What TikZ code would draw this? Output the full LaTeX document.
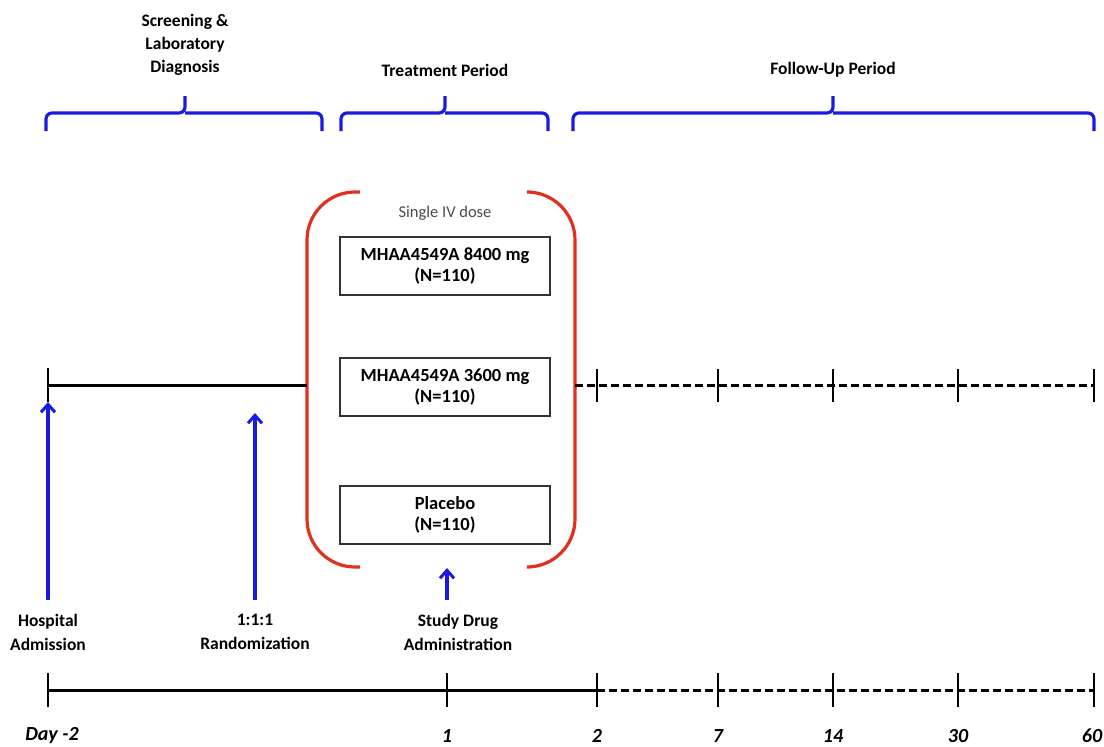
\documentclass[tikz,border=0pt]{standalone}
\usepackage{fontspec}
\setmainfont{Carlito}
\usepackage{xcolor}
\definecolor{cBlue}{HTML}{1A1AE0}
\definecolor{cRed}{HTML}{E0301E}
\definecolor{cGray}{HTML}{4A4A4A}
\usepackage{tikz}
\usetikzlibrary{positioning,arrows.meta}
\tikzset{
  period-brace/.style={draw=cBlue,line width=3.2pt,rounded corners=6pt},
  dose-bracket/.style={draw=cRed,line width=3.2pt,rounded corners=48pt},
  arm-box/.style={draw=black!80,line width=1.2pt,minimum width=210pt,
    minimum height=58pt,align=center,font=\fontsize{18.5}{21}\selectfont\bfseries},
  period-label/.style={align=center,font=\fontsize{17.5}{23}\selectfont\bfseries},
  event-label/.style={align=center,inner ysep=14pt,
    font=\fontsize{17.5}{24}\selectfont\bfseries},
  day-label/.style={font=\fontsize{20}{22}\selectfont\bfseries\itshape},
  line-solid/.style={draw=black,line width=3pt},
  line-dashed/.style={draw=black,line width=3pt,dash pattern=on 8pt off 4pt},
  tick-mark/.style={draw=black,line width=2pt},
  arrow-event/.style={draw=cBlue,line width=3.4pt,
    -{Straight Barb[length=8pt,width=14pt,line width=3pt]}},
}
\begin{document}
\begin{tikzpicture}[x=1pt,y=-1pt]
  \useasboundingbox (0,0) rectangle (1104,747);

  % period headers
  \node[period-label] (screen) at (185,45) {Screening \&\\Laboratory\\Diagnosis};
  \node[period-label] (treat) at (445,70) {Treatment Period};
  \node[period-label] (follow) at (833,70) {Follow-Up Period};
  \draw[period-brace] (46,131) |- (185,113) -- (185,96);
  \draw[period-brace] (322,131) |- (185,113);
  \draw[period-brace] (341,131) |- (445,113) -- (445,96);
  \draw[period-brace] (548,131) |- (445,113);
  \draw[period-brace] (573,131) |- (833,113) -- (833,96);
  \draw[period-brace] (1094,131) |- (833,113);

  % study arms
  \draw[dose-bracket] (360,192) -- (307,192) -- (307,567) -- (360,567);
  \draw[dose-bracket] (530,192) -- (575,192) -- (575,567) -- (530,567);
  \node[text=cGray,font=\fontsize{16.5}{18}\selectfont] (dose) at (445,213) {Single IV dose};
  \node[arm-box] (arm8400) at (445,266) {MHAA4549A 8400 mg\\(N=110)};
  \node[arm-box] (arm3600) at (445,387) {MHAA4549A 3600 mg\\(N=110)};
  \node[arm-box] (placebo) at (445,515) {Placebo\\(N=110)};

  % upper timeline
  \coordinate (u0) at (48,385);
  \coordinate (u1) at (307,385);
  \coordinate (u2) at (575,385);
  \coordinate (u60) at (1094,385);
  \draw[line-solid] (u0) -- (u1);
  \draw[line-dashed] (u2) -- (u60);
  \draw[tick-mark] (48,368) -- (48,402);
  \foreach \x in {597,718,833,958,1094}
    \draw[tick-mark] (\x,369) -- (\x,402);

  % events
  \node[event-label] (admit) at (48,632) {Hospital\\Admission};
  \node[event-label] (rand) at (255,632) {1:1:1\\Randomization};
  \node[event-label] (drug) at (458,632) {Study Drug\\Administration};
  \coordinate (a0) at (48,402);
  \coordinate (r0) at (255,413);
  \coordinate (d0) at (447,568);
  \draw[arrow-event] (admit.north) -- (a0);
  \draw[arrow-event] (rand.north) -- (r0);
  \draw[arrow-event] (d0 |- drug.north) -- (d0);

  % lower timeline
  \coordinate (l0) at (48,690);
  \coordinate (l2) at (597,690);
  \coordinate (l60) at (1094,690);
  \draw[line-solid] (l0) -- (l2);
  \draw[line-dashed] (l2) -- (l60);
  \foreach \x in {48,447,597,718,833,958,1094}
    \draw[tick-mark] (\x,673) -- (\x,707);
  \node[day-label] (dm2) at (52,736) {Day -2};
  \node[day-label] (d1) at (447,736) {1};
  \node[day-label] (d2) at (597,736) {2};
  \node[day-label] (d7) at (718,736) {7};
  \node[day-label] (d14) at (833,736) {14};
  \node[day-label] (d30) at (958,736) {30};
  \node[day-label] (d60) at (1092,736) {60};
\end{tikzpicture}
\end{document}
